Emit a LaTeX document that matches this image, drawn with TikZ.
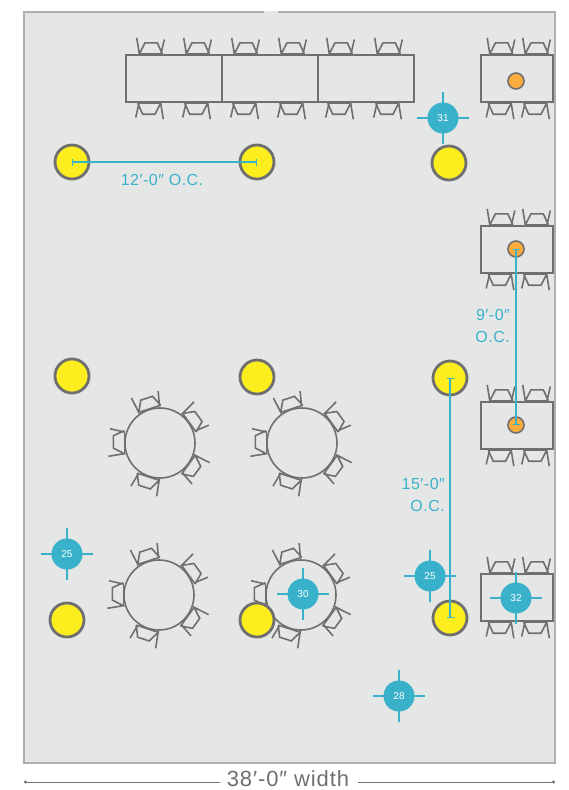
\documentclass[tikz,border=0pt]{standalone}
\usepackage{fontspec}
\setmainfont{Liberation Sans}
\usetikzlibrary{arrows.meta}
\definecolor{Panel}{HTML}{E5E7E6}
\definecolor{PanelEdge}{HTML}{ADAFB1}
\definecolor{Steel}{HTML}{6F6F70}
\definecolor{Lagoon}{HTML}{3AB1CB}
\definecolor{Lemon}{HTML}{FCEE1E}
\definecolor{Amber}{HTML}{FBAC3F}
\tikzset{
  columnmark/.style={circle,draw=Steel,line width=2.8pt,fill=Lemon,minimum size=34pt,inner sep=0pt},
  dotmark/.style={circle,draw=Steel,line width=1.6pt,fill=Amber,minimum size=16pt,inner sep=0pt},
  tablerect/.style={draw=Steel,line width=1.7pt},
  tableround/.style={circle,draw=Steel,line width=1.6pt,minimum size=70pt,inner sep=0pt},
  seatline/.style={draw=Steel,line width=1.6pt},
  crossline/.style={draw=Lagoon,line width=2.2pt},
  badgedot/.style={circle,fill=Lagoon,text=white,minimum size=31pt,inner sep=0pt,font=\fontsize{10}{10}\selectfont},
  dimline/.style={draw=Lagoon,line width=1.2pt,{Bar[width=7pt,line width=1pt]}-{Bar[width=7pt,line width=1pt]}},
  dimtext/.style={text=Lagoon,font=\fontsize{16}{22}\selectfont\addfontfeature{LetterSpace=3},inner sep=0pt},
  chair/.pic={
    \draw[seatline] (-13.3,-16.7) -- (-10.7,-0.7) -- (-5,-11.7) -- (7.3,-11.7) -- (12.3,-0.7);
    \draw[seatline] (14.3,-15) -- (11,-0.7);
    \draw[seatline] (-10.7,-0.7) -- (12.3,-0.7);
  }
}
\begin{document}
\begin{tikzpicture}[x=1pt,y=-1pt]
  \useasboundingbox (0,0) rectangle (569,790);
  \draw[draw=PanelEdge,line width=1.4pt,fill=Panel] (24,12) rectangle (555,763);
  \draw[draw=Panel,line width=1.5pt] (264,12) -- (278,12);

  % long row of tables
  \draw[tablerect] (126,55) rectangle (222,102);
  \draw[tablerect] (222,55) rectangle (318,102);
  \draw[tablerect] (318,55) rectangle (414,102);
  \foreach \cx in {150,197,245,292,340,388} {
    \pic at (\cx,54.5) {chair};
    \pic[rotate=180] at (\cx,102.5) {chair};
  }

  % tables on the right
  \foreach \ty in {55,226,402,574} {
    \draw[tablerect] (481,\ty) rectangle ++(72,47);
    \foreach \cx in {500.5,536} {
      \pic at (\cx,\ty-0.5) {chair};
      \pic[rotate=180] at (\cx,\ty+47.5) {chair};
    }
  }

  % round tables
  \node[tableround] (round1) at (160,443) {};
  \node[tableround] (round2) at (302,443) {};
  \node[tableround] (round3) at (159,595) {};
  \node[tableround] (round4) at (301,595) {};
  \foreach \tb in {round1,round2,round3,round4} {
    \foreach \a in {90,18,-54,-126,-198} {
      \pic[rotate=\a,yshift=35pt] at (\tb) {chair};
    }
  }

  \node[dotmark] (dot1) at (516,81) {};
  \node[dotmark] (dot2) at (516,249) {};
  \node[dotmark] (dot3) at (516,425) {};

  \node[columnmark] (col1) at (72,162) {};
  \node[columnmark] (col2) at (257,162) {};
  \node[columnmark] (col3) at (449,163) {};
  \node[columnmark] (col4) at (72,376) {};
  \node[columnmark] (col5) at (257,377) {};
  \node[columnmark] (col6) at (450,378) {};
  \node[columnmark] (col7) at (67,620) {};
  \node[columnmark] (col8) at (257,620) {};
  \node[columnmark] (col9) at (450,618) {};

  % dimensions
  \draw[dimline] (col1.center) -- (col2.center);
  \draw[dimline] (dot2.center) -- (dot3.center);
  \draw[dimline] (col6.center) -- (col9.center);
  \node[dimtext] (dimA) at (162,180) {12′-0″ O.C.};
  \node[dimtext,align=right,anchor=east] (dimB) at (510,326) {9′-0″\\O.C.};
  \node[dimtext,align=right,anchor=east] (dimC) at (445,495) {15′-0″\\O.C.};

  % badges
  \foreach \bx/\by/\num/\bname in {443/118/31/b1,67/554/25/b2,303/594/30/b3,430/576/25/b4,516/598/32/b5,399/696/28/b6} {
    \draw[crossline] (\bx-26,\by) -- (\bx+26,\by);
    \draw[crossline] (\bx,\by-26) -- (\bx,\by+26);
    \node[badgedot] (\bname) at (\bx,\by) {\num};
  }

  % overall width
  \node[text=Steel,font=\fontsize{22}{22}\selectfont\addfontfeature{LetterSpace=4},inner sep=0pt] (widthlabel) at (288,779) {38′-0″ width};
  \coordinate (wleft) at (24,782);
  \coordinate (wgapl) at (220,782);
  \coordinate (wgapr) at (358,782);
  \coordinate (wright) at (555,782);
  \draw[draw=Steel,line width=0.8pt,{Circle[length=3pt]}-] (wleft) -- (wgapl);
  \draw[draw=Steel,line width=0.8pt,-{Circle[length=3pt]}] (wgapr) -- (wright);
\end{tikzpicture}
\end{document}
